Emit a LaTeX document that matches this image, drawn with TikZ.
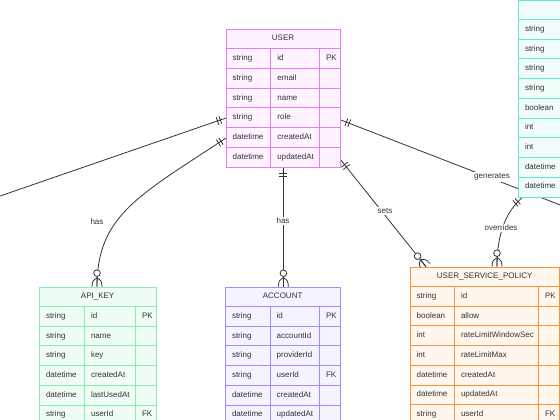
\documentclass[tikz,border=0pt]{standalone}
\usepackage{fontspec}
\setmainfont{Liberation Sans}
\usetikzlibrary{calc,decorations.markings}

\definecolor{ink}{HTML}{333333}
\definecolor{usrline}{HTML}{E879F9}
\definecolor{usrfill}{HTML}{FDF4FF}
\definecolor{keyline}{HTML}{86EFAC}
\definecolor{keyfill}{HTML}{F0FDF4}
\definecolor{accline}{HTML}{A78BFA}
\definecolor{accfill}{HTML}{F5F3FF}
\definecolor{polline}{HTML}{FB923C}
\definecolor{polfill}{HTML}{FFF7ED}
\definecolor{svcline}{HTML}{5EEAD4}
\definecolor{svcfill}{HTML}{F0FDFA}

\pgfdeclarelayer{back}
\pgfsetlayers{back,main}

\tikzset{
  ent/.style={draw=#1line, fill=#1fill, line width=0.8pt, inner sep=0pt, anchor=north west},
  cell/.style={font=\fontsize{8}{9}\selectfont, text=ink, anchor=west, inner sep=0pt,
    text height=5.8pt, text depth=1.6pt},
  head/.style={font=\fontsize{8}{9}\selectfont, text=ink, inner sep=0pt,
    text height=5.8pt, text depth=1.6pt},
  rel/.style={draw=ink, line width=0.8pt},
  lbl/.style={font=\fontsize{8}{9}\selectfont, text=ink, fill=white, inner sep=1.5pt},
  onestart/.style={postaction={decorate, decoration={markings, mark=at position 0 with
    {\draw[ink, line width=0.8pt] (6pt,-4pt) -- (6pt,4pt) (9pt,-4pt) -- (9pt,4pt);}}}},
  oneend/.style={postaction={decorate, decoration={markings, mark=at position 1 with
    {\draw[ink, line width=0.8pt] (-6pt,-4pt) -- (-6pt,4pt) (-9pt,-4pt) -- (-9pt,4pt);}}}},
  manyend/.style={postaction={decorate, decoration={markings, mark=at position 1 with
    {\draw[ink, line width=0.8pt] (-9pt,0) -- (0,0)
       (-9pt,0) .. controls (-6pt,4.5pt) .. (0,5pt)
       (-9pt,0) .. controls (-6pt,-4.5pt) .. (0,-5pt);
     \draw[ink, line width=0.8pt, fill=white] (-13.5pt,0) circle (3.3pt);}}}}
}

% name, colour, left, top, col1, col2, right, title, rows
\newcommand{\entity}[9]{%
  \def\nrows{0}%
  \foreach \r in {#9}{\xdef\nrows{\the\numexpr\nrows+1\relax}}%
  \pgfmathsetmacro\ewid{#7-#3}%
  \pgfmathsetmacro\ehgt{19.7*(\nrows+1)}%
  \node[ent=#2, minimum width=\ewid pt, minimum height=\ehgt pt] (#1) at (#3,#4) {};
  \node[head] (#1-title) at ({(#3+#7)/2},#4+9.85) {#8};
  \foreach \ty/\nm/\ky [count=\i] in {#9} {
    \draw[#2line, line width=0.8pt] (#3,#4+19.7*\i) -- (#7,#4+19.7*\i);
    \node[cell] (#1-ty\i) at (#3+6.5,#4+19.7*\i+9.85) {\ty};
    \node[cell] (#1-nm\i) at (#5+6.5,#4+19.7*\i+9.85) {\nm};
    \node[cell] (#1-ky\i) at (#6+6.5,#4+19.7*\i+9.85) {\ky};
  }
  \draw[#2line, line width=0.8pt] (#5,#4+19.7) -- (#5,#4+\ehgt) (#6,#4+19.7) -- (#6,#4+\ehgt);
}

\begin{document}
\begin{tikzpicture}[x=1pt,y=-1pt]
\useasboundingbox (0,0) rectangle (560,420);

% tables
\entity{user}{usr}{226}{29}{270.7}{319.3}{340}{USER}{string/id/PK, string/email/, string/name/, string/role/, datetime/createdAt/, datetime/updatedAt/}
\entity{apikey}{key}{39.3}{286.7}{84.3}{135.3}{156}{API\_KEY}{string/id/PK, string/name/, string/key/, datetime/createdAt/, datetime/lastUsedAt/, string/userId/FK}
\entity{account}{acc}{225.3}{286.7}{270}{319.3}{340}{ACCOUNT}{string/id/PK, string/accountId/, string/providerId/, string/userId/FK, datetime/createdAt/, datetime/updatedAt/}
\entity{policy}{pol}{410}{266.7}{454.3}{538.3}{559.3}{USER\_SERVICE\_POLICY}{string/id/PK, boolean/allow/, int/rateLimitWindowSec/, int/rateLimitMax/, datetime/createdAt/, datetime/updatedAt/, string/userId/FK}
\entity{service}{svc}{518.3}{-0.3}{563}{620}{640}{}{string//, string//, string//, string//, boolean//, int//, int//, datetime//, datetime//}

% relations
\begin{pgfonlayer}{back}
\fill[white] (0,0) rectangle (560,420);
\coordinate (offleft) at (-30,206.4);
\coordinate (offright) at (600,220.4);
\draw[rel, oneend] (offleft) -- ($(user.north west)+(0,89)$);
\draw[rel, onestart, manyend] ($(user.north west)+(0,109)$) .. controls (140,195) and (97,215) .. ($(apikey.north west)+(57.7,0)$);
\draw[rel, onestart, manyend] (user.south) -- (user.south |- account.north);
\draw[rel, onestart] ($(user.north east)+(0,91)$) -- (offright);
\draw[rel, onestart, manyend] ($(user.north east)+(0,131)$) -- ($(policy.north west)+(16,0)$);
\draw[rel, onestart, manyend] ($(service.south west)+(4,0)$) .. controls (508,210) and (497,230) .. ($(policy.north west)+(87,0)$);
\node[lbl] (has1) at (97,222) {has};
\node[lbl] (has2) at (283,221) {has};
\node[lbl] (gen) at (492,177) {generates};
\node[lbl] (sets) at (385,211) {sets};
\node[lbl] (ovr) at (501,228) {overrides};
\end{pgfonlayer}
\end{tikzpicture}
\end{document}
